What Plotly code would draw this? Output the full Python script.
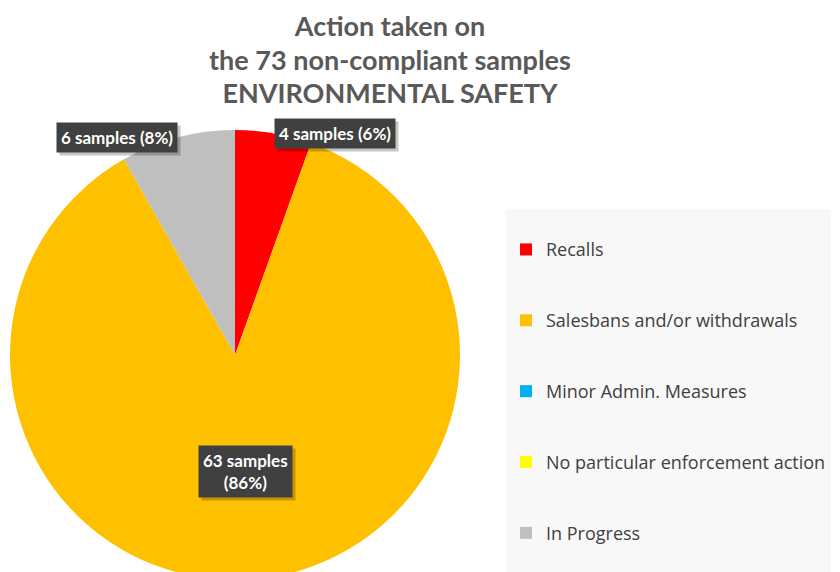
import numpy as np
import plotly.graph_objects as go

# données
categories = ["Recalls", "Salesbans and/or withdrawals", "Minor Admin. Measures",
              "No particular enforcement action", "In Progress"]
samples = [4, 63, 0, 0, 6]
slice_colors = ["#FF0000", "#FFC000", "#00B0F0", "#FFFF00", "#BFBFBF"]

total = sum(samples)

# pourcentages arrondis à 100 (plus forts restes)
raw = np.array(samples) / total * 100
pcts = np.floor(raw).astype(int)
for j in np.argsort(-(raw - pcts))[: 100 - pcts.sum()]:
    pcts[j] += 1

W, H = 832, 590
cx, cy, R = 227, 347, 225  # centre et rayon du camembert (pixels)

# lignes vides autour des libellés pour espacer la légende
legend_labels = [f' <br><span style="font-size:18px">{c}</span><br> ' for c in categories]

fig = go.Figure(go.Pie(
    labels=legend_labels,
    values=samples,
    marker=dict(colors=slice_colors, line=dict(width=0)),
    sort=False,
    direction="clockwise",
    rotation=0,
    textinfo="none",
    hoverinfo="value+percent",
    domain=dict(x=[(cx - R) / W, (cx + R) / W],
                y=[(H - cy - R) / H, (H - cy + R) / H]),
))

# étiquettes façon Excel (boîtes sombres avec ombre)
cum = np.cumsum([0] + samples)
for i, v in enumerate(samples):
    if v == 0:
        continue
    theta = np.radians((cum[i] + v / 2) / total * 360)
    if v / total > 0.5:
        k, xa = 0.52, "center"
        txt = f"<b>{v} samples<br>({pcts[i]}%)</b>"
    else:
        k = 1.0
        xa = "left" if np.sin(theta) > 0 else "right"
        txt = f"<b>{v} samples ({pcts[i]}%)</b>"
    px_ = cx + R * k * np.sin(theta)
    py_ = cy - R * k * np.cos(theta)
    for shadow in (True, False):
        fig.add_annotation(
            x=px_ / W, y=1 - py_ / H, xref="paper", yref="paper",
            xanchor=xa, yanchor="middle",
            xshift=3 if shadow else 0, yshift=-3 if shadow else 0,
            text=txt, showarrow=False,
            font=dict(family="Lato", size=17,
                      color="rgba(0,0,0,0)" if shadow else "white"),
            bgcolor="rgba(0,0,0,0.22)" if shadow else "#404040",
            borderpad=4,
        )

fig.update_layout(
    width=W, height=H,
    margin=dict(l=0, r=0, t=0, b=0, autoexpand=False),
    paper_bgcolor="white",
    title=dict(
        text='<b><span style="font-size:27px">Action taken on<br>the 73 non-compliant samples'
             '<br>ENVIRONMENTAL SAFETY</span></b>',
        x=382 / W, xanchor="center", y=1 - 28 / H, yanchor="top",
        font=dict(family="Lato", size=25.8, color="#595959"),
    ),
    legend=dict(
        x=498 / W, xanchor="left", y=1 - 201 / H, yanchor="top",
        bgcolor="#F8F8F8",
        font=dict(family="Open Sans", size=17.4, color="#404040"),
    ),
)

fig.write_html("out.html")
